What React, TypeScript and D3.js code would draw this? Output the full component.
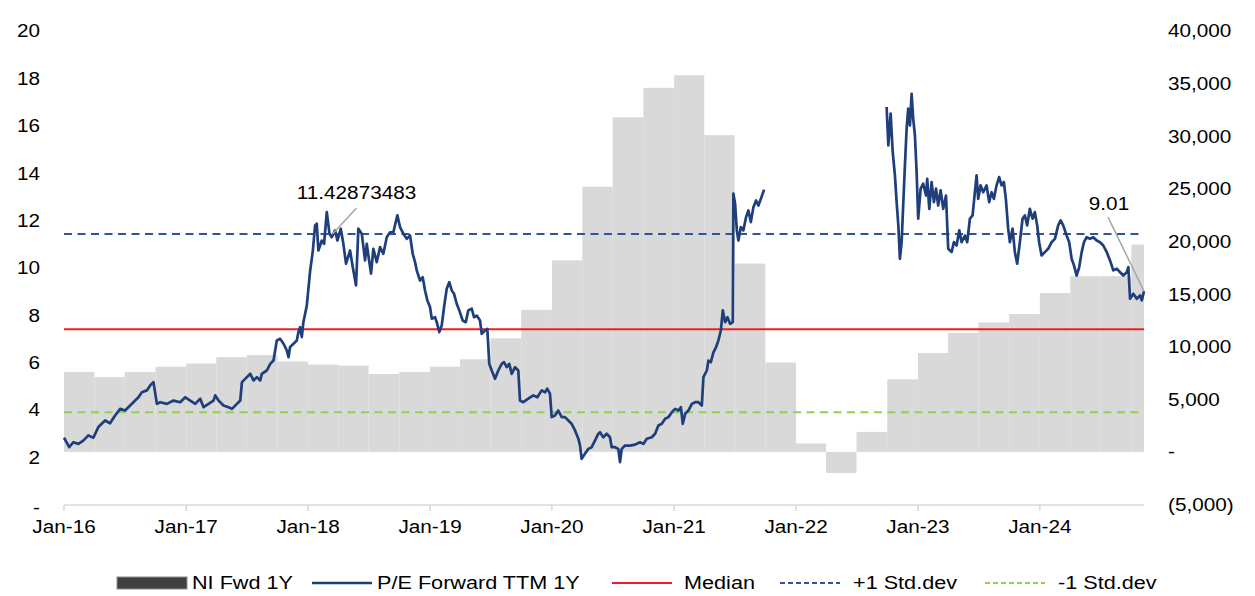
import React from "react";
import * as d3 from "d3";

// ---------- DATA ----------
// Quarter starts for NI Fwd 1Y bars (right axis)
const niQuarters: string[] = [
  "2016-01-01","2016-04-01","2016-07-01","2016-10-01",
  "2017-01-01","2017-04-01","2017-07-01","2017-10-01",
  "2018-01-01","2018-04-01","2018-07-01","2018-10-01",
  "2019-01-01","2019-04-01","2019-07-01","2019-10-01",
  "2020-01-01","2020-04-01","2020-07-01","2020-10-01",
  "2021-01-01","2021-04-01","2021-07-01","2021-10-01",
  "2022-01-01","2022-04-01","2022-07-01","2022-10-01",
  "2023-01-01","2023-04-01","2023-07-01","2023-10-01",
  "2024-01-01","2024-04-01","2024-07-01","2024-10-01",
];
const niFwd1Y: number[] = [
  7600, 7100, 7600, 8100,
  8400, 9000, 9200, 8600,
  8300, 8200, 7400, 7600,
  8100, 8800, 10800, 13500,
  18200, 25200, 31800, 34600,
  35800, 30100, 17900, 8500,
  800, -2000, 1900, 6900,
  9400, 11300, 12300, 13100,
  15100, 16700, 16700, 19700,
];
const chartEnd = 2024.852; // decimal year of last observation

// P/E Forward TTM 1Y (left axis): [decimal year, value], null = no data
const peForward: [number, number | null][] = [
  [2016.000, 2.82],[2016.043, 2.42],[2016.076, 2.63],[2016.117, 2.56],[2016.158, 2.70],
  [2016.199, 2.92],[2016.240, 2.82],[2016.281, 3.27],[2016.336, 3.55],[2016.377, 3.43],
  [2016.418, 3.76],[2016.459, 4.04],[2016.500, 3.97],[2016.541, 4.18],[2016.568, 4.32],
  [2016.609, 4.53],[2016.637, 4.74],[2016.678, 4.82],[2016.705, 5.03],[2016.732, 5.17],
  [2016.760, 4.25],[2016.787, 4.32],[2016.842, 4.25],[2016.896, 4.39],[2016.951, 4.32],
  [2016.992, 4.53],[2017.033, 4.39],[2017.074, 4.25],[2017.115, 4.47],[2017.142, 4.11],
  [2017.183, 4.25],[2017.224, 4.39],[2017.238, 4.61],[2017.265, 4.39],[2017.306, 4.18],
  [2017.347, 4.11],[2017.375, 4.04],[2017.416, 4.25],[2017.443, 4.39],[2017.457, 5.17],
  [2017.498, 5.38],[2017.525, 5.52],[2017.552, 5.24],[2017.580, 5.38],[2017.607, 5.24],
  [2017.620, 5.52],[2017.661, 5.66],[2017.689, 5.94],[2017.716, 6.08],[2017.743, 6.93],
  [2017.770, 7.00],[2017.798, 6.79],[2017.825, 6.51],[2017.839, 6.22],[2017.852, 6.65],
  [2017.880, 6.79],[2017.907, 6.93],[2017.920, 7.28],[2017.934, 7.49],[2017.948, 7.07],
  [2017.961, 7.70],[2017.989, 8.40],[2018.016, 9.85],[2018.039, 10.73],[2018.057, 11.79],
  [2018.071, 11.86],[2018.084, 10.73],[2018.112, 11.15],[2018.131, 11.01],[2018.153, 12.35],
  [2018.175, 11.44],[2018.194, 11.29],[2018.221, 11.58],[2018.240, 11.15],[2018.268, 11.65],
  [2018.289, 11.01],[2018.311, 10.17],[2018.344, 10.73],[2018.366, 10.03],[2018.393, 9.25],
  [2018.412, 11.65],[2018.440, 11.44],[2018.467, 10.31],[2018.481, 11.01],[2018.500, 10.31],
  [2018.516, 9.75],[2018.535, 10.80],[2018.563, 10.24],[2018.590, 10.87],[2018.617, 10.59],
  [2018.645, 11.29],[2018.672, 11.50],[2018.699, 11.50],[2018.732, 12.21],[2018.754, 11.72],
  [2018.781, 11.44],[2018.809, 11.22],[2018.836, 11.36],[2018.858, 10.59],[2018.877, 10.24],
  [2018.891, 9.89],[2018.918, 9.46],[2018.940, 9.60],[2018.959, 9.04],[2018.978, 8.62],
  [2019.000, 8.34],[2019.014, 7.85],[2019.041, 7.91],[2019.055, 7.70],[2019.076, 7.28],
  [2019.096, 7.56],[2019.115, 8.34],[2019.137, 9.11],[2019.158, 9.39],[2019.178, 9.04],
  [2019.197, 8.90],[2019.219, 8.48],[2019.240, 8.20],[2019.268, 7.77],[2019.293, 7.70],
  [2019.314, 8.20],[2019.342, 8.27],[2019.361, 7.91],[2019.383, 7.98],[2019.410, 7.77],
  [2019.424, 7.21],[2019.451, 7.35],[2019.470, 7.42],[2019.486, 5.94],[2019.506, 5.66],
  [2019.533, 5.31],[2019.560, 5.66],[2019.588, 5.94],[2019.607, 6.01],[2019.629, 5.80],
  [2019.650, 5.94],[2019.670, 5.52],[2019.697, 5.80],[2019.724, 5.66],[2019.738, 4.39],
  [2019.765, 4.32],[2019.806, 4.47],[2019.847, 4.61],[2019.880, 4.53],[2019.916, 4.82],
  [2019.943, 4.74],[2019.961, 4.89],[2019.984, 4.68],[2019.998, 3.69],[2020.025, 3.76],
  [2020.052, 3.97],[2020.080, 3.69],[2020.107, 3.69],[2020.134, 3.55],[2020.161, 3.41],
  [2020.189, 3.13],[2020.216, 2.78],[2020.230, 2.49],[2020.243, 1.93],[2020.270, 2.14],
  [2020.298, 2.35],[2020.325, 2.42],[2020.352, 2.70],[2020.380, 2.99],[2020.393, 3.05],
  [2020.420, 2.84],[2020.448, 2.99],[2020.475, 2.84],[2020.489, 2.42],[2020.516, 2.42],
  [2020.543, 2.35],[2020.557, 1.79],[2020.571, 2.35],[2020.598, 2.49],[2020.639, 2.49],
  [2020.680, 2.53],[2020.721, 2.63],[2020.748, 2.56],[2020.776, 2.78],[2020.817, 2.84],
  [2020.844, 2.99],[2020.871, 3.34],[2020.899, 3.41],[2020.926, 3.62],[2020.953, 3.69],
  [2020.981, 3.90],[2021.008, 4.04],[2021.035, 3.97],[2021.055, 4.11],[2021.071, 3.41],
  [2021.090, 3.83],[2021.117, 3.97],[2021.145, 4.25],[2021.172, 4.32],[2021.199, 4.32],
  [2021.227, 4.18],[2021.240, 5.38],[2021.268, 5.66],[2021.281, 6.08],[2021.301, 6.01],
  [2021.322, 6.43],[2021.344, 6.65],[2021.363, 6.93],[2021.383, 7.35],[2021.399, 8.20],
  [2021.418, 7.70],[2021.437, 7.91],[2021.459, 7.63],[2021.481, 7.70],[2021.486, 13.13],
  [2021.500, 12.70],[2021.514, 11.58],[2021.527, 11.15],[2021.547, 11.72],[2021.568, 11.58],
  [2021.590, 12.14],[2021.609, 12.42],[2021.629, 11.93],[2021.650, 12.56],[2021.672, 12.84],
  [2021.691, 12.63],[2021.711, 12.91],[2021.738, 13.30],
  [2022.200, null],
  [2022.743, 16.79],[2022.757, 15.17],[2022.776, 16.51],[2022.793, 14.88],[2022.811, 13.90],
  [2022.825, 12.77],[2022.839, 11.79],[2022.852, 10.38],[2022.866, 11.08],[2022.880, 12.77],
  [2022.893, 14.32],[2022.907, 15.87],[2022.920, 16.72],[2022.934, 16.01],[2022.948, 17.35],
  [2022.961, 16.30],[2022.975, 15.59],[2022.989, 14.04],[2023.002, 12.07],[2023.022, 13.34],
  [2023.043, 13.55],[2023.066, 13.05],[2023.076, 13.76],[2023.093, 12.49],[2023.112, 13.62],
  [2023.131, 12.77],[2023.148, 13.34],[2023.166, 12.63],[2023.186, 13.27],[2023.207, 12.49],
  [2023.230, 13.05],[2023.248, 10.80],[2023.276, 10.66],[2023.295, 11.08],[2023.317, 10.94],
  [2023.339, 11.58],[2023.358, 11.08],[2023.385, 11.36],[2023.404, 11.08],[2023.426, 12.07],
  [2023.448, 12.21],[2023.467, 13.19],[2023.481, 13.90],[2023.494, 12.91],[2023.514, 13.48],
  [2023.535, 13.19],[2023.563, 13.48],[2023.584, 12.77],[2023.604, 13.19],[2023.623, 12.91],
  [2023.645, 13.48],[2023.666, 13.83],[2023.686, 13.48],[2023.705, 13.62],[2023.721, 12.91],
  [2023.740, 11.65],[2023.754, 11.08],[2023.776, 11.65],[2023.795, 10.66],[2023.814, 10.17],
  [2023.836, 11.08],[2023.858, 12.07],[2023.877, 12.21],[2023.896, 11.79],[2023.918, 12.49],
  [2023.940, 12.07],[2023.959, 12.35],[2023.978, 11.79],[2023.994, 11.08],[2024.014, 10.52],
  [2024.041, 10.66],[2024.068, 10.80],[2024.096, 11.08],[2024.123, 11.22],[2024.150, 11.79],
  [2024.170, 12.00],[2024.191, 11.79],[2024.219, 11.36],[2024.240, 11.08],[2024.260, 10.38],
  [2024.279, 10.10],[2024.301, 9.67],[2024.322, 10.03],[2024.342, 10.66],[2024.361, 11.08],
  [2024.383, 11.29],[2024.410, 11.22],[2024.437, 11.29],[2024.465, 11.15],[2024.492, 11.08],
  [2024.519, 10.94],[2024.547, 10.66],[2024.574, 10.31],[2024.601, 9.89],[2024.629, 9.96],
  [2024.656, 9.81],[2024.683, 9.67],[2024.711, 9.81],[2024.724, 10.03],[2024.738, 8.69],
  [2024.765, 8.90],[2024.793, 8.69],[2024.820, 8.83],[2024.834, 8.62],[2024.852, 9.01],
];

const medianPE = 7.40;
const plusStd = 11.42873483;
const minusStd = 3.90;

const leftTicks: number[] = [0, 2, 4, 6, 8, 10, 12, 14, 16, 18, 20];
const rightTicks: number[] = [-5000, 0, 5000, 10000, 15000, 20000, 25000, 30000, 35000, 40000];
const legendLabels: string[] = ["NI Fwd 1Y", "P/E Forward TTM 1Y", "Median", "+1 Std.dev", "-1 Std.dev"];

// annotation anchors (decimal year, label)
const annoPeak = { t: 2018.2, label: "11.42873483" };
const annoLast = { t: chartEnd, label: "9.01" };

// ---------- HELPERS ----------
function decToDate(t: number): Date {
  const y = Math.floor(t);
  const s = new Date(y, 0, 1).getTime();
  const e = new Date(y + 1, 0, 1).getTime();
  return new Date(s + (t - y) * (e - s));
}

const FONT = "'Liberation Sans', Arial, Helvetica, sans-serif";
const FS = 18.5;
const SX = 1.12;

function Label({ x, y, text, anchor = "start", sx = SX }: { x: number; y: number; text: string; anchor?: string; sx?: number }) {
  return (
    <text
      transform={`translate(${x},${y}) scale(${sx},1)`}
      textAnchor={anchor}
      dy="0.35em"
      fontFamily={FONT}
      fontSize={FS}
      fill="#000"
    >
      {text}
    </text>
  );
}

export default function App() {
  const W = 1255, H = 596;
  const x0 = 64, x1 = 1144;
  const yTop = 31, yBot = 504.5;
  const startDate = new Date(2016, 0, 1);
  const endDate = decToDate(chartEnd);

  const x = d3.scaleTime().domain([startDate, endDate]).range([x0, x1]);
  const yL = d3.scaleLinear().domain([0, 20]).range([yBot, yTop]);
  const yR = d3.scaleLinear().domain([-5000, 40000]).range([yBot, yTop]);

  const line = d3
    .line<[number, number | null]>()
    .defined((d) => d[1] != null)
    .x((d) => x(decToDate(d[0])))
    .y((d) => yL(d[1] as number));

  const parse = d3.timeParse("%Y-%m-%d");
  const qStarts = niQuarters.map((s) => parse(s) as Date);

  const yearTicks = d3.timeYear.range(new Date(2016, 0, 1), new Date(2024, 1, 1));
  const fmtYear = d3.timeFormat("%b-%y");
  const fmtComma = d3.format(",");
  const fmtRight = (v: number) => (v === 0 ? "-" : v < 0 ? `(${fmtComma(-v)})` : fmtComma(v));
  const fmtLeft = (v: number) => (v === 0 ? "-" : String(v));

  const peakX = x(decToDate(annoPeak.t));
  const peakY = yL(plusStd);
  const last = peForward[peForward.length - 1];
  const lastX = x(decToDate(annoLast.t));
  const lastY = yL(last[1] as number);

  const legendY = 583;
  const navy = "#1f3e7c";
  const LSX = 1.17;

  return (
    <svg width={W} height={H} style={{ position: "absolute", left: 0, top: 0, background: "#fff" }}>
      {/* bars */}
      <g>
        {niFwd1Y.map((v, i) => {
          const xs = x(qStarts[i]);
          const xe = i + 1 < qStarts.length ? x(qStarts[i + 1]) : x1;
          const ya = yR(Math.max(0, v));
          const yb = yR(Math.min(0, v));
          return <rect key={i} x={xs} y={ya} width={Math.max(0, xe - xs)} height={yb - ya} fill="#d9d9d9" />;
        })}
      </g>

      {/* reference lines */}
      <line x1={x0} x2={x1} y1={yL(minusStd)} y2={yL(minusStd)} stroke="#92d050" strokeWidth={2} strokeDasharray="8,5.5" />
      <line x1={x0} x2={x1} y1={yL(plusStd)} y2={yL(plusStd)} stroke="#2f5597" strokeWidth={2} strokeDasharray="8,5.5" />
      <line x1={x0} x2={x1} y1={yL(medianPE)} y2={yL(medianPE)} stroke="#ee1c25" strokeWidth={2} />

      {/* P/E line */}
      <path d={line(peForward) || ""} fill="none" stroke={navy} strokeWidth={2.7} strokeLinejoin="round" />

      {/* x axis */}
      <line x1={x0} x2={x1} y1={505} y2={505} stroke="#d9d9d9" strokeWidth={1.5} />
      {yearTicks.map((d, i) => (
        <g key={i}>
          <line x1={x(d)} x2={x(d)} y1={505} y2={511} stroke="#d9d9d9" strokeWidth={1.5} />
          <Label x={x(d)} y={527} text={fmtYear(d)} anchor="middle" />
        </g>
      ))}

      {/* left axis */}
      {leftTicks.map((v) => (
        <Label key={v} x={40} y={yL(v) + (v === 0 ? 3 : 0)} text={fmtLeft(v)} anchor="end" />
      ))}
      {/* right axis */}
      {rightTicks.map((v) => (
        <Label key={v} x={1168} y={yR(v)} text={fmtRight(v)} anchor="start" />
      ))}

      {/* annotations */}
      <line x1={peakX + 24} y1={peakY - 26} x2={peakX} y2={peakY} stroke="#a6a6a6" strokeWidth={1.5} />
      <Label x={peakX + 24} y={peakY - 41} text={annoPeak.label} anchor="middle" />
      <line x1={lastX - 36} y1={lastY - 74} x2={lastX} y2={lastY} stroke="#a6a6a6" strokeWidth={1.5} />
      <Label x={lastX - 35} y={lastY - 88} text={annoLast.label} anchor="middle" />

      {/* legend */}
      <g>
        <rect x={117} y={legendY - 6} width={70} height={12} fill="#404040" stroke="#8c8c8c" strokeWidth={1} />
        <Label x={192} y={legendY} text={legendLabels[0]} sx={LSX} />
        <line x1={312} x2={372} y1={legendY} y2={legendY} stroke={navy} strokeWidth={2.4} />
        <Label x={377} y={legendY} text={legendLabels[1]} sx={LSX} />
        <line x1={612} x2={672} y1={legendY} y2={legendY} stroke="#ee1c25" strokeWidth={2} />
        <Label x={684} y={legendY} text={legendLabels[2]} sx={LSX} />
        <line x1={780} x2={840} y1={legendY} y2={legendY} stroke="#2f5597" strokeWidth={2} strokeDasharray="5,3" />
        <Label x={853} y={legendY} text={legendLabels[3]} sx={LSX} />
        <line x1={985} x2={1045} y1={legendY} y2={legendY} stroke="#92d050" strokeWidth={2} strokeDasharray="5,3" />
        <Label x={1058} y={legendY} text={legendLabels[4]} sx={LSX} />
      </g>
    </svg>
  );
}
